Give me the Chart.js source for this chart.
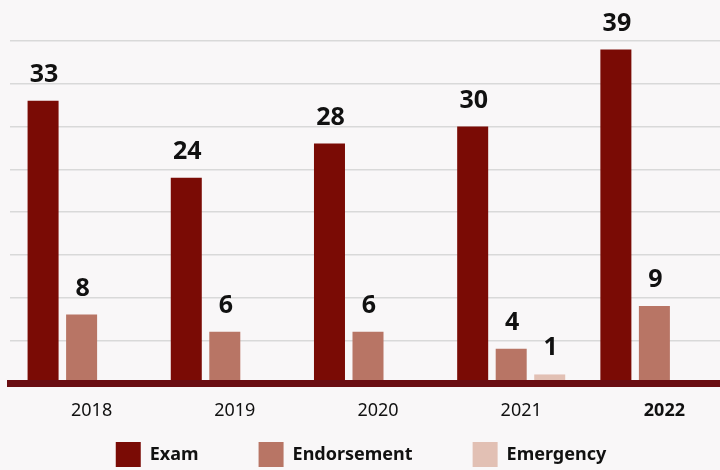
<!DOCTYPE html>
<html>
<head>
<meta charset="utf-8">
<script src="https://cdn.jsdelivr.net/npm/chart.js@4"></script>
<style>
  html, body { margin: 0; padding: 0; background: #f9f7f8; overflow: hidden; }
  #wrap { position: relative; width: 726px; height: 470px; }
</style>
</head>
<body>
<div id="wrap"><canvas id="chart"></canvas></div>
<script>
// data
const years = ['2018', '2019', '2020', '2021', '2022'];
const exam = [33, 24, 28, 30, 39];
const endorsement = [8, 6, 6, 4, 9];
const emergency = [0, 0, 0, 1, 0];
const yTicks = [0, 5, 10, 15, 20, 25, 30, 35, 40];

const FONT = '"Noto Sans", "DejaVu Sans", sans-serif';

// value labels over each bar
const valueLabels = {
  id: 'valueLabels',
  afterDatasetsDraw(chart) {
    const ctx = chart.ctx;
    ctx.save();
    ctx.font = 'bold 25px ' + FONT;
    ctx.fillStyle = '#111';
    ctx.textAlign = 'center';
    ctx.textBaseline = 'alphabetic';
    chart.data.datasets.forEach((ds, i) => {
      chart.getDatasetMeta(i).data.forEach((bar, j) => {
        const v = ds.data[j];
        if (!v) return;
        ctx.fillText(String(v), bar.x + 1, bar.y - 19);
      });
    });
    ctx.restore();
  }
};

// legend sits right under the axis labels (its 60px item gap also pads the top)
const pullLegend = {
  id: 'pullLegend',
  afterLayout(chart) {
    const lg = chart.legend;
    if (!lg) return;
    const dy = (chart.chartArea.bottom - 1) - lg.top;
    lg.top += dy;
    lg.bottom += dy;
  }
};

new Chart(document.getElementById('chart'), {
  type: 'bar',
  data: {
    labels: years,
    datasets: [
      { label: 'Exam', data: exam, backgroundColor: '#7a0b05' },
      { label: 'Endorsement', data: endorsement, backgroundColor: '#b87565' },
      { label: 'Emergency', data: emergency, backgroundColor: '#e2c0b4' }
    ]
  },
  options: {
    responsive: true, maintainAspectRatio: false, animation: false,
    categoryPercentage: 0.807, barPercentage: 0.805,
    layout: { padding: { left: -4, top: 41, right: 0, bottom: -52 } },
    plugins: {
      tooltip: { enabled: false },
      legend: {
        position: 'bottom',
        labels: {
          boxWidth: 25, boxHeight: 25, padding: 60, color: '#111',
          font: { family: FONT, size: 18, weight: 'bold' }
        }
      }
    },
    scales: {
      x: {
        afterFit: s => { s.height = 44; },
        grid: { display: false, drawTicks: false },
        border: { display: true, color: '#6a0e12', width: 7, z: 1 },
        ticks: {
          padding: 17, labelOffset: 10, color: '#111', autoSkip: false,
          font: c => ({ family: FONT, size: 18, weight: c.index === 4 ? 'bold' : 'normal' })
        }
      },
      y: {
        min: 0, max: 40,
        afterFit: s => { s.width = 14; },
        afterBuildTicks: s => { s.ticks = yTicks.map(v => ({ value: v })); },
        grid: { color: '#d9d9d9', lineWidth: 1.5, drawTicks: false },
        border: { display: false },
        ticks: { display: false }
      }
    }
  },
  plugins: [valueLabels, pullLegend]
});
</script>
</body>
</html>
